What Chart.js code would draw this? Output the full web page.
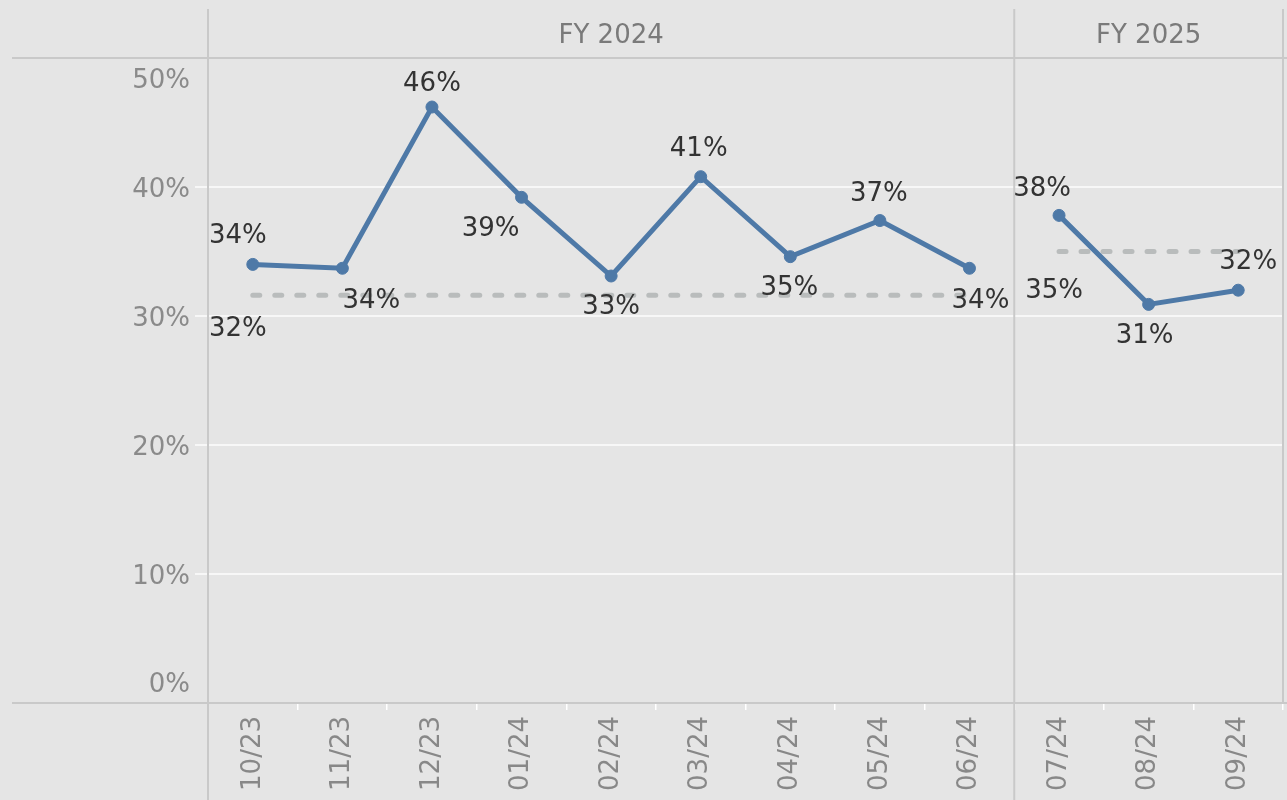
<!DOCTYPE html>
<html>
<head>
<meta charset="utf-8">
<script src="https://cdn.jsdelivr.net/npm/chart.js@4"></script>
<style>
  html, body { margin: 0; padding: 0; background: #e5e5e5; }
  #wrap { width: 1287px; height: 800px; }
  canvas { display: block; }
</style>
</head>
<body>
<div id="wrap"><canvas id="c" width="1287" height="800"></canvas></div>
<script>
// ---- data ----
const months = ['10/23','11/23','12/23','01/24','02/24','03/24','04/24','05/24','06/24','07/24','08/24','09/24'];
const fiscalYears = ['FY 2024', 'FY 2025'];
const fy2024Months = 9;            // first 9 months belong to FY 2024
const fy2024Rate = [34.0, 33.7, 46.2, 39.2, 33.1, 40.8, 34.6, 37.4, 33.7];
const fy2025Rate = [37.8, 30.9, 32.0];
const fy2024Reference = 31.6;
const fy2025Reference = 35.0;
const yTickValues = [0, 10, 20, 30, 40, 50];

// ---- label placement (style only) ----
const pointLabelOffsets = [
  [-15,-31],[29,30],[0,-25],[-31,29],[0,29],[-2,-30],[-1,29],[-1,-29],[11,30],
  [-17,-29],[-4,29],[10,-30]
];
const refLabelOffsets = [[-15,31],[-5,37]];
const TEXT_SHIFT = 2.5;

// ---- build series ----
const nullsFY25 = fy2025Rate.map(() => null);
const nullsFY24 = fy2024Rate.map(() => null);
const fy24Data = fy2024Rate.concat(nullsFY25);
const fy25Data = nullsFY24.concat(fy2025Rate);
const fy24Ref = fy2024Rate.map(() => fy2024Reference).concat(nullsFY25);
const fy25Ref = nullsFY24.concat(fy2025Rate.map(() => fy2025Reference));

const FONT = 'DejaVu Sans';
const BLUE = '#4e79a7';
const DASH = '#b9bcbc';
const BORDER = '#c9c9c9';

const fmt = v => Math.round(v) + '%';

const framePlugin = {
  id: 'frame',
  beforeDatasetsDraw(chart) {
    const ctx = chart.ctx;
    const x = chart.scales.x, area = chart.chartArea;
    const half = (x.getPixelForValue(1) - x.getPixelForValue(0)) / 2;
    const sep = x.getPixelForValue(fy2024Months - 1) + half;
    ctx.save();
    ctx.strokeStyle = BORDER;
    ctx.lineWidth = 2;
    ctx.beginPath();
    ctx.moveTo(12, area.top); ctx.lineTo(1287, area.top);
    ctx.moveTo(12, area.bottom); ctx.lineTo(1287, area.bottom);
    ctx.moveTo(area.left, 9); ctx.lineTo(area.left, 800);
    ctx.moveTo(sep, 9); ctx.lineTo(sep, 800);
    ctx.moveTo(area.right, 9); ctx.lineTo(area.right, area.bottom);
    ctx.stroke();
    ctx.fillStyle = '#7a7a7a';
    ctx.font = '26px "' + FONT + '"';
    ctx.textAlign = 'center';
    ctx.textBaseline = 'middle';
    ctx.fillText(fiscalYears[0], (area.left + sep) / 2, 36.5);
    ctx.fillText(fiscalYears[1], (sep + area.right) / 2, 36.5);
    ctx.restore();
  },
  afterDatasetsDraw(chart) {
    const ctx = chart.ctx;
    ctx.save();
    ctx.fillStyle = '#333333';
    ctx.font = '26px "' + FONT + '"';
    ctx.textAlign = 'center';
    ctx.textBaseline = 'middle';
    [0, 1].forEach(di => {
      const meta = chart.getDatasetMeta(di);
      const data = chart.data.datasets[di].data;
      meta.data.forEach((el, i) => {
        if (data[i] === null) return;
        const o = pointLabelOffsets[i];
        ctx.fillText(fmt(data[i]), el.x + o[0], el.y + o[1] + TEXT_SHIFT);
      });
    });
    [2, 3].forEach((di, k) => {
      const meta = chart.getDatasetMeta(di);
      const data = chart.data.datasets[di].data;
      const i = data.findIndex(v => v !== null);
      const el = meta.data[i];
      const o = refLabelOffsets[k];
      ctx.fillText(fmt(data[i]), el.x + o[0], el.y + o[1] + TEXT_SHIFT);
    });
    ctx.restore();
  }
};

new Chart(document.getElementById('c'), {
  type: 'line',
  data: {
    labels: months,
    datasets: [
      { label: 'FY 2024', data: fy24Data, borderColor: BLUE, backgroundColor: BLUE,
        borderWidth: 5, pointRadius: 6, pointBorderWidth: 1, pointBorderColor: BLUE,
        tension: 0, spanGaps: false, order: 0 },
      { label: 'FY 2025', data: fy25Data, borderColor: BLUE, backgroundColor: BLUE,
        borderWidth: 5, pointRadius: 6, pointBorderWidth: 1, pointBorderColor: BLUE,
        tension: 0, spanGaps: false, order: 0 },
      { label: 'FY 2024 reference', data: fy24Ref, borderColor: DASH, borderWidth: 5,
        borderDash: [7, 15], borderCapStyle: 'round', pointRadius: 0, order: 1 },
      { label: 'FY 2025 reference', data: fy25Ref, borderColor: DASH, borderWidth: 5,
        borderDash: [7, 15], borderCapStyle: 'round', pointRadius: 0, order: 1 }
    ]
  },
  options: {
    responsive: false,
    devicePixelRatio: 1,
    animation: false,
    layout: { autoPadding: false, padding: { top: 58, right: 4, left: 0, bottom: 0 } },
    plugins: { legend: { display: false }, tooltip: { enabled: false } },
    scales: {
      x: {
        type: 'category',
        offset: true,
        grid: { offset: true, drawOnChartArea: false, drawTicks: true, tickLength: 7,
                color: '#ffffff', lineWidth: 1.5 },
        border: { display: false },
        ticks: { autoSkip: false, minRotation: 90, maxRotation: 90, padding: 6,
                 color: '#888888', font: { family: FONT, size: 26 } },
        afterFit(s) { s.height = 97; s.paddingLeft = 0; s.paddingRight = 0; }
      },
      y: {
        min: yTickValues[0], max: yTickValues[yTickValues.length - 1],
        afterBuildTicks(s) { s.ticks = yTickValues.map(v => ({ value: v })); },
        grid: {
          drawTicks: true, tickLength: 13, lineWidth: 2,
          color: c => (c.tick && (c.tick.value === yTickValues[0] || c.tick.value === yTickValues[yTickValues.length-1])) ? 'rgba(0,0,0,0)' : '#f7f7f7'
        },
        border: { display: false },
        ticks: {
          padding: 5, color: '#8a8a8a', labelOffset: 3,
          font: c => {
            const v = c.tick ? c.tick.value : null;
            const edge = v === yTickValues[0] || v === yTickValues[yTickValues.length-1];
            return { family: FONT, size: 26, lineHeight: edge ? '41px' : 1.2 };
          },
          callback: v => {
            if (v === yTickValues[yTickValues.length-1]) return ['', v + '%'];
            if (v === yTickValues[0]) return [v + '%', ''];
            return v + '%';
          }
        },
        afterFit(s) { s.width = 208; s.paddingTop = 0; s.paddingBottom = 0; s.paddingLeft = 0; s.paddingRight = 0; }
      }
    }
  },
  plugins: [framePlugin]
});
</script>
</body>
</html>
